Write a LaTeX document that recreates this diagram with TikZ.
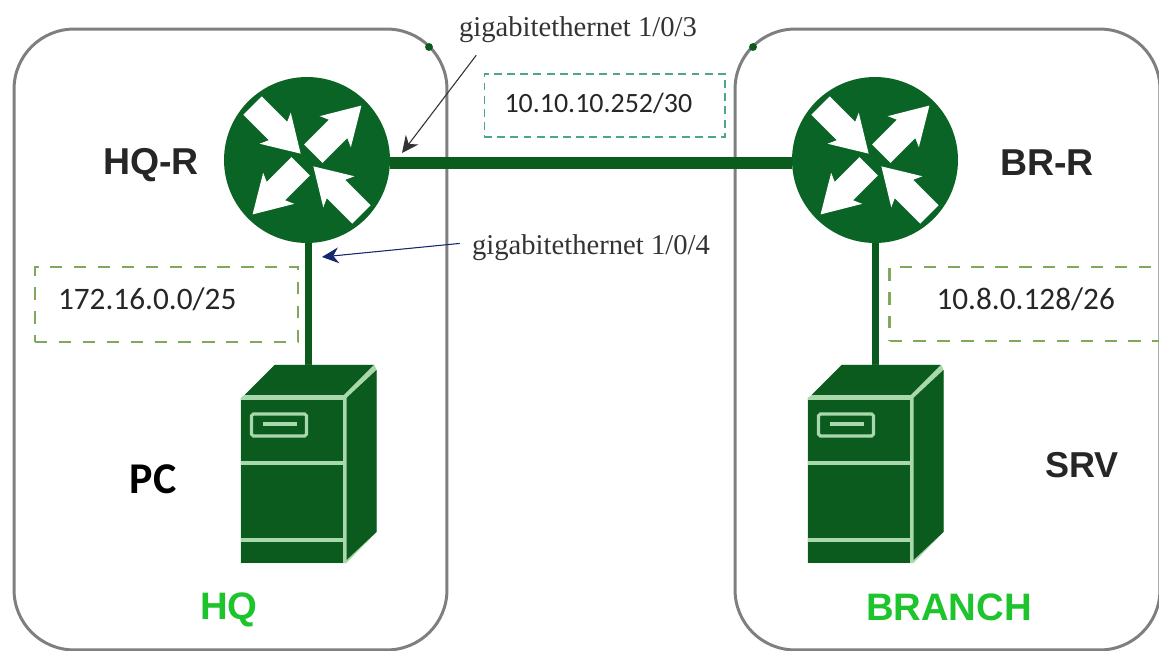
\documentclass[tikz,border=0pt]{standalone}
\usepackage{fontspec}
\setmainfont{Liberation Serif}
\setsansfont{Liberation Sans}
\newfontfamily\carlitofont{Carlito}
\usetikzlibrary{arrows.meta}
\definecolor{routergreen}{HTML}{0A6425}
\definecolor{servergreen}{HTML}{0B5A1E}
\definecolor{stripegreen}{HTML}{A9D8AC}
\definecolor{brightgreen}{HTML}{1DC42C}
\definecolor{sitegray}{HTML}{7F7F7F}
\definecolor{dashgreen}{HTML}{7FA85A}
\definecolor{dashteal}{HTML}{4FA58A}
\definecolor{calloutblue}{HTML}{14286E}
\begin{document}
\begin{tikzpicture}[
    x = 0.02cm,
    y = -0.02cm,
    site/.style = {
      shape = rectangle,
      draw = sitegray,
      line width = 1.7pt,
      rounded corners = 1.2cm,
      inner sep = 0pt,
      minimum height = 12.42cm
    },
    dot/.style = {
      shape = circle,
      fill = servergreen,
      minimum size = 4.5pt,
      inner sep = 0pt,
      outer sep = 0pt
    },
    router/.style = {
      shape = circle,
      fill = routergreen,
      minimum size = 3.32cm,
      inner sep = 0pt,
      outer sep = 0pt
    },
    server/.style = {
      shape = rectangle,
      minimum width = 2.7cm,
      minimum height = 3.96cm,
      inner sep = 0pt,
      outer sep = 0pt
    },
    link/.style = {
      draw = servergreen,
      line width = 4pt
    },
    trunk/.style = {
      draw = servergreen,
      line width = 7.2pt
    },
    netbox/.style = {
      shape = rectangle,
      align = left,
      text = black!85,
      inner ysep = 0pt,
      text depth = 6.5pt,
      font = \carlitofont\fontsize{17.8}{20}\selectfont
    },
    lanbox/.style = {
      netbox,
      draw = dashgreen,
      line width = 1.4pt,
      dash pattern = on 7pt off 6.6pt
    },
    portlabel/.style = {
      text = black!80,
      inner sep = 0.24cm,
      font = \fontsize{16.3}{18}\selectfont
    },
    devlabel/.style = {
      text = black!85,
      inner sep = 0pt,
      font = \sffamily\bfseries\fontsize{21.3}{24}\selectfont
    },
    sitelabel/.style = {
      text = brightgreen,
      inner sep = 0pt,
      font = \sffamily\bfseries\fontsize{21.8}{24}\selectfont
    },
    callout/.style = {
      line width = 0.6pt,
      -{Stealth[length = 9.5pt, width = 9pt]}
    }
  ]
    \useasboundingbox (0, 0) rectangle (1159, 651);

    \node[site, minimum width = 8.66cm] (hqsite) at (230.5, 339.5) {};
    \node[site, minimum width = 8.5cm] (brsite) at (947.5, 339.5) {};
    \node[dot] (hqdot) at (429, 47) {};
    \node[dot] (brdot) at (753, 47) {};

    \node[router] (hq) at (307, 160) {};
    \node[router] (br) at (875, 160) {};
    \node[server] (pc) at (308.5, 464) {};
    \node[server] (srv) at (875.5, 464) {};

    \draw[trunk] (hq.-2) -- (br.182);
    \draw[link] (pc.north |- hq.south) -- (pc.north);
    \draw[link] (srv.north |- br.south) -- (srv.north);

    \foreach \rname in {hq, br} {
      \foreach \ang in {45, 225} {
        \fill[white, shift = {(\rname)}, rotate = \ang]
          (9, -13) -- (44, -13) -- (40, -22) -- (77, 0) -- (40, 22) -- (44, 13) -- (9, 13) -- cycle;
      }
      \foreach \ang in {135, 315} {
        \fill[white, shift = {(\rname)}, rotate = \ang]
          (77, -13) -- (41, -13) -- (45, -22) -- (9, 0) -- (45, 22) -- (41, 13) -- (77, 13) -- cycle;
      }
    }

    \foreach \sname in {pc, srv} {
      \begin{scope}[shift = {(\sname)}]
        \fill[stripegreen] (-64, -69) -- (-34, -99) -- (66, -99) -- (68, -94) -- (68, 68) -- (38, 99) -- (-68, 99) -- (-68, -66) -- cycle;
        \fill[servergreen] (-68, -64) rectangle (34, 99);
        \fill[servergreen] (-64, -69) -- (-34, -99) -- (65, -99) -- (35, -69) -- cycle;
        \fill[servergreen] (38, -66) -- (68, -94) -- (68, 68) -- (38, 96) -- cycle;
        \draw[stripegreen, line width = 2.2pt] (-68, -1) -- (34, -1);
        \draw[stripegreen, line width = 2.2pt] (-68, 76) -- (34, 76);
        \draw[stripegreen, line width = 1.8pt, rounded corners = 1pt] (-57, -50) rectangle (-2, -28);
        \draw[stripegreen, line width = 1.8pt] (-46, -40) -- (-12, -40);
      \end{scope}
    }

    \node[lanbox, text width = 4.34cm, inner xsep = 0.46cm, minimum height = 1.5cm] (hqnet) at (166.5, 304.5) {172.16.0.0/25};
    \node[lanbox, text width = 3.58cm, inner xsep = 0.94cm, minimum height = 1.48cm] (brnet) at (1026, 304) {10.8.0.128/26};
    \node[netbox, draw = dashteal, line width = 0.6pt, text width = 4.0cm, inner xsep = 0.41cm, minimum height = 1.26cm,
      text depth = 3pt, font = \carlitofont\fontsize{15.9}{18}\selectfont, dash pattern = on 4.5pt off 3pt] (wannet) at (604.5, 105.5) {10.10.10.252/30};

    \node[devlabel] (hqname) at (151, 165) {HQ-R};
    \node[devlabel] (brname) at (1047, 163) {BR-R};
    \node[inner sep = 0pt, font = \carlitofont\bfseries\fontsize{25}{28}\selectfont] (pcname) at (153, 479) {PC};
    \node[devlabel, font = \sffamily\bfseries\fontsize{20.5}{24}\selectfont] (srvname) at (1082, 465) {SRV};
    \node[sitelabel] (hqlabel) at (229, 610) {HQ};
    \node[sitelabel] (brlabel) at (949, 607) {BRANCH};

    \node[portlabel] (gigthree) at (578, 30) {gigabitethernet 1/0/3};
    \node[portlabel] (gigfour) at (591, 248) {gigabitethernet 1/0/4};

    \coordinate (tipthree) at (402, 153);
    \coordinate (tipfour) at (322, 257);
    \draw[callout, draw = black!80, fill = black] (gigthree.194) -- (tipthree);
    \draw[callout, draw = calloutblue, fill = calloutblue] (gigfour.178) -- (tipfour);
  \end{tikzpicture}
\end{document}
